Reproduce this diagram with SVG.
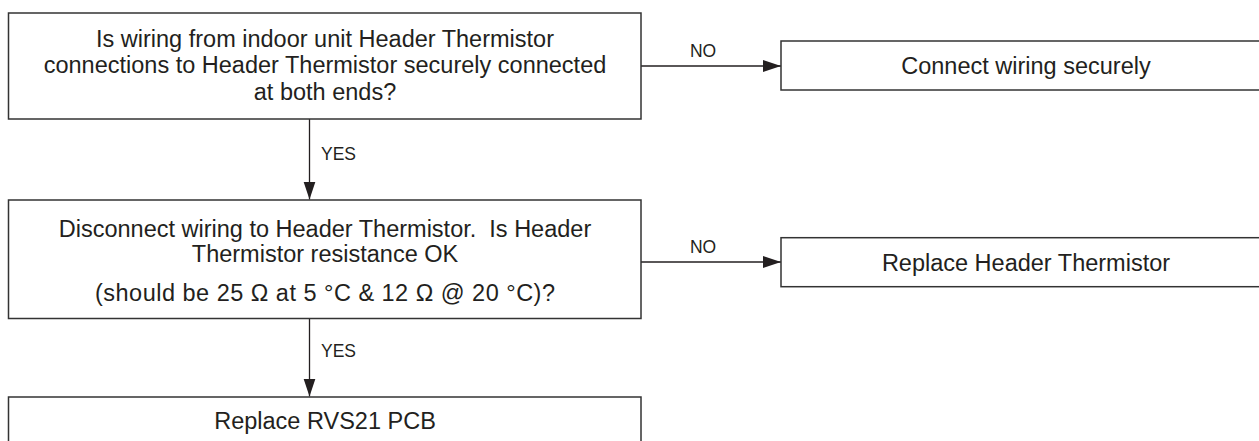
<svg xmlns="http://www.w3.org/2000/svg" width="1259" height="441" viewBox="0 0 1259 441">
<defs>
<marker id="ah" markerWidth="18" markerHeight="13" refX="18" refY="6.5" orient="auto" markerUnits="userSpaceOnUse">
<path d="M0,0.5 L18,6.5 L0,12.5 Z" fill="#231f20"/>
</marker>
</defs>
<style>
.box{fill:#fff;stroke:#333;stroke-width:1.5}
.t{font-family:"Liberation Sans",Arial,sans-serif;font-size:23.5px;fill:#231f20;text-anchor:middle;white-space:pre}
.l{font-family:"Liberation Sans",Arial,sans-serif;font-size:17.5px;fill:#231f20}
.c{fill:none;stroke:#231f20;stroke-width:1.3}
</style>
<rect width="1259" height="441" fill="#fff"/>
<g id="connectors">
<line class="c" x1="641" y1="66" x2="781" y2="66" marker-end="url(#ah)"/>
<text class="l" x="703" y="57" text-anchor="middle">NO</text>
<line class="c" x1="309.5" y1="119" x2="309.5" y2="199.5" marker-end="url(#ah)"/>
<text class="l" x="321" y="160">YES</text>
<line class="c" x1="641" y1="262" x2="781" y2="262" marker-end="url(#ah)"/>
<text class="l" x="703" y="253" text-anchor="middle">NO</text>
<line class="c" x1="309.5" y1="318.5" x2="309.5" y2="396.5" marker-end="url(#ah)"/>
<text class="l" x="321" y="357">YES</text>
</g>
<g id="n1">
<rect class="box" x="8.5" y="13" width="632.5" height="106"/>
<text class="t" x="325" y="46.5">Is wiring from indoor unit Header Thermistor</text>
<text class="t" x="325" y="73">connections to Header Thermistor securely connected</text>
<text class="t" x="325" y="99.5">at both ends?</text>
</g>
<g id="n2">
<rect class="box" x="781" y="41" width="490" height="49"/>
<text class="t" x="1026" y="74">Connect wiring securely</text>
</g>
<g id="n3">
<rect class="box" x="8.5" y="200" width="632.5" height="118.5"/>
<text class="t" x="325" y="237" xml:space="preserve">Disconnect wiring to Header Thermistor.  Is Header</text>
<text class="t" x="325" y="262">Thermistor resistance OK</text>
<text class="t" x="325" y="301" textLength="460" lengthAdjust="spacing">(should be 25 Ω at 5 °C &amp; 12 Ω @ 20 °C)?</text>
</g>
<g id="n4">
<rect class="box" x="781" y="237.7" width="490" height="49"/>
<text class="t" x="1026" y="270.5">Replace Header Thermistor</text>
</g>
<g id="n5">
<rect class="box" x="8.5" y="397" width="632.5" height="60"/>
<text class="t" x="325" y="429">Replace RVS21 PCB</text>
</g>
</svg>
